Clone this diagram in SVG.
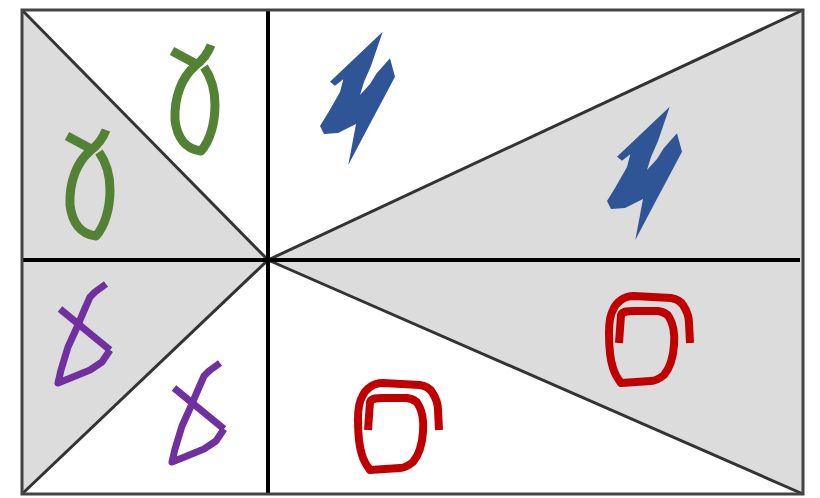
<svg xmlns="http://www.w3.org/2000/svg" xmlns:xlink="http://www.w3.org/1999/xlink" width="820" height="498" viewBox="0 0 820 498">
<style>
.shade{fill:#dcdcdc;stroke:none}
.frame{fill:none;stroke:#444;stroke-width:3}
.diag{stroke:#333;stroke-width:3;fill:none}
.axis{stroke:#000;stroke-width:4;fill:none}
.green{fill:none;stroke:#548235;stroke-width:9;stroke-linejoin:round}
.purple{fill:none;stroke:#7030a0;stroke-width:7;stroke-linejoin:round;stroke-linecap:butt}
.red{fill:none;stroke:#c00000;stroke-width:8;stroke-linejoin:round}
.blue{fill:#2f5597;stroke:none}
</style>
<defs>
<g id="gGreen">
<path class="green" d="M67,136 L93,150"/>
<path class="green" d="M106,130 C103,138 98,145 90,151 C77,162 69,182 70,205 C72,222 80,234 96,236 C105,226 110,208 110,190 C110,174 106,162 99,152"/>
</g>
<g id="gBlue">
<polygon class="blue" points="382.7,31.7 330,81.7 335,85.7 343.3,79.3 340,92 328,113 320,126 324,134 338,133 356,124 348.3,165 366.7,130 378.3,108.3 395,76.7 390,58.3 376.7,73.3 370,84 360,95 364,82 371,66"/>
</g>
<g id="gPurple">
<path class="purple" d="M60,309 L110,350"/>
<path class="purple" d="M106,284 L95,292 L90,297 L83,313 L78,325 L68,347 L61,370 L58,383 L73,377 L90,370 L102,362 L110,350"/>
</g>
<g id="gRed">
<path class="red" d="M368,430 L370,402 C372,398 377,398 383,398 L407,398 C412,399 416,400 418,404 C423,412 424,420 423,432 C422,447 418,456 413,462 C408,466 404,468 400,468 L370,470 C367,466 364,462 362,455 C359,446 358,432 358,420 C358,410 359,402 362,397 C364,392 367,389 370,387 C374,384 378,383 383,383 L420,385 C426,386 430,389 432,392 C436,398 438,403 438,410 L439,430"/>
</g>
</defs>
<g id="regions">
<polygon class="shade" points="22,10 268,260 22,494"/>
<polygon class="shade" points="803,10 268,260 803,494"/>
</g>
<g id="connectors">
<line class="diag" x1="268" y1="260" x2="22" y2="10"/>
<line class="diag" x1="268" y1="260" x2="22" y2="494"/>
<line class="diag" x1="268" y1="260" x2="803" y2="10"/>
<line class="diag" x1="268" y1="260" x2="803" y2="494"/>
<line class="axis" x1="268" y1="11" x2="268" y2="494"/>
<line class="axis" x1="22" y1="260" x2="800" y2="260"/>
<rect class="frame" x="22" y="10" width="781" height="484"/>
</g>
<g id="green-1"><use xlink:href="#gGreen"/></g>
<g id="green-2"><use xlink:href="#gGreen" transform="translate(105,-85)"/></g>
<g id="blue-1"><use xlink:href="#gBlue"/></g>
<g id="blue-2"><use xlink:href="#gBlue" transform="translate(287,75)"/></g>
<g id="purple-1"><use xlink:href="#gPurple"/></g>
<g id="purple-2"><use xlink:href="#gPurple" transform="translate(114,79)"/></g>
<g id="red-1"><use xlink:href="#gRed"/></g>
<g id="red-2"><use xlink:href="#gRed" transform="translate(251,-87)"/></g>
</svg>
